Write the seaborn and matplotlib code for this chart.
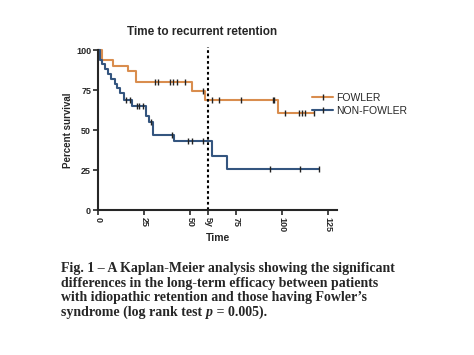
import matplotlib
matplotlib.use('Agg')
import matplotlib.pyplot as plt
import pandas as pd
import seaborn as sns
from matplotlib.lines import Line2D

# Kaplan-Meier steps (time in months, percent survival)
fowler_t = [0, 2, 8, 16.5, 20.5, 51, 58, 98, 117.5]
fowler_s = [100, 94, 90, 87, 80, 74.5, 69, 60.5, 60.5]
fowler_cens_t = [31, 32.5, 39, 41, 43, 47.5, 57, 62, 66, 78, 95, 96, 101.5, 109.5, 111, 112.5, 117.5]
fowler_cens_s = [80, 80, 80, 80, 80, 80, 74.5, 69, 69, 69, 69, 69, 60.5, 60.5, 60.5, 60.5, 60.5]

nonf_t = [0, 1, 2, 4, 5.5, 7, 9, 10.5, 12, 14, 18.5, 26, 27.5, 30, 41.5, 62, 70, 120]
nonf_s = [100, 94, 91, 88, 85, 82, 79, 76, 73, 69, 65, 59, 55, 47, 43, 34, 25.5, 25.5]
nonf_cens_t = [15.5, 17.5, 21, 22.5, 24.5, 29, 40, 49, 51, 57, 93.5, 110, 120]
nonf_cens_s = [69, 69, 65, 65, 65, 55, 47, 43, 43, 43, 25.5, 25.5, 25.5]

groups = ['FOWLER', 'NON-FOWLER']
colors = ['#D98D4E', '#34557F']
x_ticks = [0, 25, 50, 60, 75, 100, 125]
x_labels = ['0', '25', '50', '5y', '75', '100', '125']
y_ticks = [0, 25, 50, 75, 100]

caption_lines = ["Fig. 1 \u2013 A Kaplan-Meier analysis showing the significant",
                 "differences in the long-term efficacy between patients",
                 "with idiopathic retention and those having Fowler\u2019s"]
caption_last = ['syndrome (log rank test ', 'p', ' = 0.005).']

steps = pd.concat([
    pd.DataFrame({'time': fowler_t, 'surv': fowler_s, 'group': groups[0]}),
    pd.DataFrame({'time': nonf_t, 'surv': nonf_s, 'group': groups[1]}),
], ignore_index=True)
cens = pd.concat([
    pd.DataFrame({'time': fowler_cens_t, 'surv': fowler_cens_s, 'group': groups[0]}),
    pd.DataFrame({'time': nonf_cens_t, 'surv': nonf_cens_s, 'group': groups[1]}),
], ignore_index=True)

sns.set_style('ticks')
plt.rcParams['font.family'] = ['Liberation Sans', 'DejaVu Sans']
palette = dict(zip(groups, colors))

fig = plt.figure(figsize=(4.74, 3.55), dpi=100)
ax = fig.add_axes([98 / 474, 1 - 210 / 355, 239 / 474, 160 / 355])

sns.lineplot(data=steps, x='time', y='surv', hue='group', palette=palette,
             drawstyle='steps-post', linewidth=1.5, ax=ax, legend=False,
             estimator=None, sort=False)
for l in ax.lines:
    l.set_clip_on(False)
sns.scatterplot(data=cens, x='time', y='surv', hue='group', palette=palette,
                marker='|', s=18, linewidth=1.0, ax=ax, legend=False,
                zorder=3, clip_on=False)
for c in ax.collections:
    c.set_edgecolor('#222222')

# 5-year marker
ax.axvline(60, color='black', linestyle=(0, (1.3, 1.3)), linewidth=1.5,
           ymin=0, ymax=1.02, clip_on=False)

ax.set_xlim(0, 130)
ax.set_ylim(0, 100)
ax.set_xticks(x_ticks)
ax.set_xticklabels(x_labels, rotation=-90, fontsize=6.5, fontweight='bold')
ax.set_yticks(y_ticks)
ax.set_yticklabels([str(v) for v in y_ticks], fontsize=6.5, fontweight='bold')
ax.tick_params(length=3.5, width=1.2, pad=1.5)
for s in ['left', 'bottom']:
    ax.spines[s].set_linewidth(1.5)
sns.despine(ax=ax)
ax.set_xlabel('Time', fontsize=7.5, fontweight='bold', labelpad=1)
ax.set_ylabel('Percent survival', fontsize=7, fontweight='bold', labelpad=2)

handles = [Line2D([0], [0], color=c, lw=1.5, marker='|', markersize=4,
                  markeredgecolor='#222222', markeredgewidth=1) for c in colors]
ax.legend(handles, groups, loc='center left', bbox_to_anchor=(0.88, 0.66),
          frameon=False, fontsize=7.5, handlelength=2.0, handletextpad=0.3,
          labelspacing=0.3, borderaxespad=0)

fig.text(202 / 474, 1 - 32 / 355, 'Time to recurrent retention', ha='center',
         va='center', fontsize=8.5, fontweight='bold')

# caption below the chart
cap_font = dict(family='Liberation Serif', fontweight='bold', fontsize=10)
baselines = [272, 287, 301]
for txt, yb in zip(caption_lines, baselines):
    fig.text(61 / 474, 1 - yb / 355, txt, ha='left', va='baseline', **cap_font)
t1 = fig.text(61 / 474, 1 - 316 / 355, caption_last[0], ha='left',
              va='baseline', **cap_font)
t2 = ax.annotate(caption_last[1], xy=(1, 0), xycoords=t1, va='bottom', ha='left',
                 style='italic', **cap_font)
ax.annotate(caption_last[2], xy=(1, 0), xycoords=t2, va='bottom', ha='left',
            **cap_font)

fig.savefig('out.png', dpi=100)
